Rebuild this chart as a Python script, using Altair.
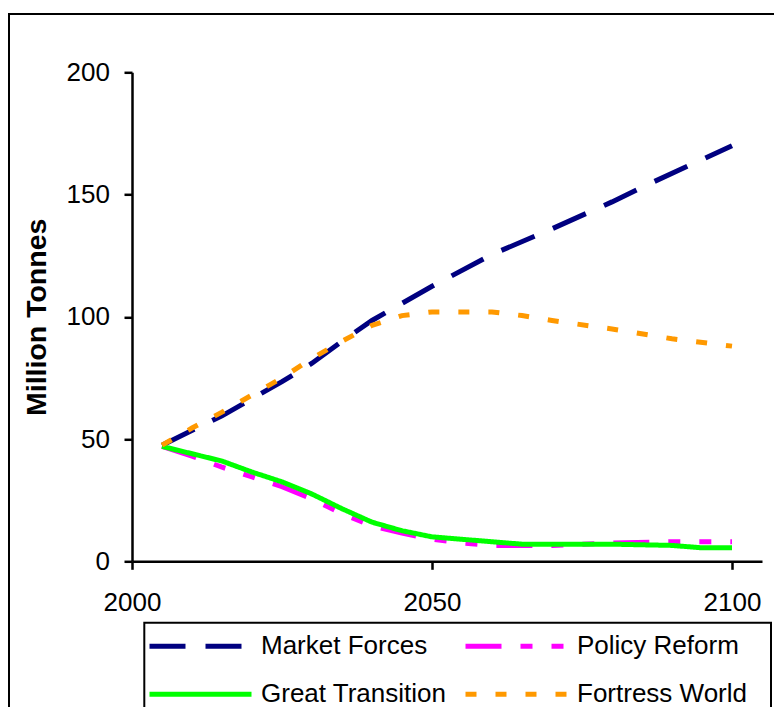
import altair as alt
import pandas as pd

# ---- data ----
names = ["Market Forces", "Policy Reform", "Great Transition", "Fortress World"]
colors = ["#000080", "#FF00FF", "#00FF00", "#FF9900"]
dashes = [[36, 20], [36, 19, 12, 19, 12, 19], [1, 0], [11, 19]]

mf_years = [2005, 2015, 2025, 2030, 2035, 2040, 2045, 2050, 2060, 2070, 2080, 2085, 2100]
mf_values = [47.5, 59.5, 73.5, 81, 90, 98.5, 105.5, 112.5, 125.5, 136, 147, 153, 170]

pr_years = [2005, 2010, 2015, 2020, 2025, 2030, 2035, 2040, 2045, 2050, 2055, 2060, 2070, 2080, 2090, 2100]
pr_values = [47, 43, 38.5, 34.5, 30.5, 25.5, 19.5, 14.5, 11.5, 9, 7.5, 6.5, 6.5, 7.5, 8, 8]

gt_years = [2005, 2015, 2020, 2025, 2030, 2035, 2040, 2045, 2050, 2060, 2065, 2080, 2090, 2095, 2100]
gt_values = [47, 41, 36.5, 32.5, 27.5, 21.5, 16, 12.5, 10, 8, 7, 7, 6.5, 5.5, 5.5]

fw_years = [2005, 2010, 2015, 2025, 2030, 2035, 2040, 2045, 2050, 2060, 2065, 2070, 2080, 2090, 2100]
fw_values = [47.5, 54.5, 61, 75, 83, 90, 96.5, 100.5, 102, 102, 100.5, 98.5, 95, 91, 88]

x_ticks = [2000, 2050, 2100]
y_ticks = [0, 50, 100, 150, 200]

rows = []
for name, yrs, vals in [
    (names[0], mf_years, mf_values),
    (names[1], pr_years, pr_values),
    (names[2], gt_years, gt_values),
    (names[3], fw_years, fw_values),
]:
    for yr, v in zip(yrs, vals):
        rows.append({"scenario": name, "year": yr, "value": v})
df = pd.DataFrame(rows)

FONT = "Liberation Sans"

leg = alt.Legend(
    title=None,
    orient="none",
    direction="horizontal",
    legendX=15,
    legendY=561,
    columns=2,
    columnPadding=16,
    rowPadding=22,
    clipHeight=26,
    symbolType="stroke",
    symbolSize=10404,
    symbolStrokeWidth=5,
    labelFontSize=26,
    labelFont=FONT,
    labelColor="black",
    labelOffset=7,
    labelLimit=400,
    padding=0,
)

lines = alt.Chart(df).mark_line(strokeWidth=5, clip=False).encode(
    x=alt.X(
        "year:Q",
        scale=alt.Scale(domain=[2000, 2105], nice=False, zero=False),
        axis=alt.Axis(
            values=x_ticks,
            format="d",
            title=None,
            labelFlush=False,
            labelBaseline="alphabetic",
            labelPadding=41.5,
        ),
    ),
    y=alt.Y(
        "value:Q",
        scale=alt.Scale(domain=[0, 200], nice=False),
        axis=alt.Axis(
            values=y_ticks,
            title="Million Tonnes",
            titleFontWeight="bold",
            titleFontSize=28.5,
            titleFont=FONT,
            titleColor="black",
            titleX=-87,
            titleY=244.5,
            titleAlign="center",
            titleBaseline="alphabetic",
            labelPadding=14.5,
        ),
    ),
    color=alt.Color("scenario:N", scale=alt.Scale(domain=names, range=colors), legend=leg),
    strokeDash=alt.StrokeDash("scenario:N", scale=alt.Scale(domain=names, range=dashes), legend=leg),
)

one = pd.DataFrame({"k": [0]})
frame = alt.Chart(one).mark_rect(filled=False, stroke="black", strokeWidth=2, clip=False).encode(
    x=alt.value(-123), x2=alt.value(900), y=alt.value(-58.3), y2=alt.value(900)
)
legend_box = alt.Chart(one).mark_rect(filled=False, stroke="black", strokeWidth=2, clip=False).encode(
    x=alt.value(12.3), x2=alt.value(639), y=alt.value(550.4), y2=alt.value(900)
)

chart = (
    alt.layer(frame, legend_box, lines)
    .properties(
        width=630,
        height=489,
        padding={"left": 124, "top": 64.3, "right": 12, "bottom": 145.7},
        autosize=alt.AutoSizeParams(type="none"),
        background="white",
    )
    .configure(font=FONT)
    .configure_view(stroke=None)
    .configure_axis(
        grid=False,
        domainColor="black",
        domainWidth=2.5,
        tickColor="black",
        tickWidth=2.5,
        tickSize=8,
        labelFontSize=26,
        labelFont=FONT,
        labelColor="black",
    )
)

chart.save("out.html", embed_options={"renderer": "svg", "actions": False})
